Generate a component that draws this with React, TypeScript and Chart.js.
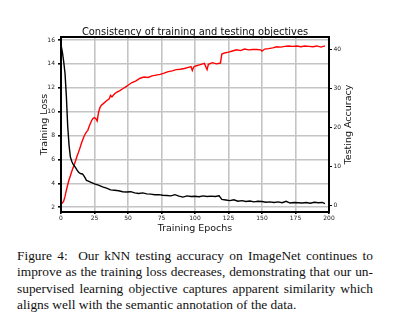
import React, { useEffect, useRef } from "react";
import { Chart, registerables } from "chart.js";

Chart.register(...registerables);

// ---- data ----
const lossEpochs = [
  0, 1, 2, 3, 4, 5, 6, 7, 8, 9, 10, 11, 12, 13, 14, 15, 16, 17, 18, 19, 20,
  22, 25, 28, 31, 34, 37, 40, 43, 46, 49, 52, 55, 58, 61, 64, 67, 70, 73, 76,
  79, 82, 85, 88, 91, 94, 97, 100, 103, 106, 109, 112, 115, 118, 120, 123,
  126, 129, 132, 135, 138, 141, 144, 147, 150, 153, 156, 159, 162, 165, 168,
  171, 174, 177, 180, 183, 186, 189, 192, 195, 197,
];
const lossValues = [
  15.6, 15.0, 14.2, 13.2, 11.3, 8.8, 7.2, 6.2, 5.85, 5.6, 5.45, 5.3, 5.1,
  4.95, 4.85, 4.8, 4.78, 4.65, 4.45, 4.25, 4.2,
  4.1, 3.95, 3.85, 3.7, 3.6, 3.45, 3.42, 3.38, 3.3, 3.28, 3.3, 3.2, 3.15,
  3.2, 3.12, 3.1, 3.05, 3.05, 3.0, 2.98, 2.95, 3.05, 2.93, 2.85, 2.95, 2.9,
  2.92, 2.88, 2.95, 2.9, 2.93, 2.9, 2.95, 2.65, 2.6, 2.55, 2.62, 2.5, 2.55,
  2.48, 2.52, 2.45, 2.5, 2.48, 2.42, 2.45, 2.4, 2.45, 2.38, 2.5, 2.35, 2.4,
  2.38, 2.35, 2.4, 2.33, 2.42, 2.38, 2.4, 2.3,
];

const accEpochs = [
  0, 1, 2, 3, 4, 5, 6, 7, 8, 9, 10, 11, 12, 13, 14, 15, 16, 17, 18, 19, 20,
  21, 22, 23, 24, 25, 26, 27, 28, 29, 30, 32, 34, 36, 37, 38, 40, 42, 44, 46,
  48, 50, 53, 56, 59, 62, 65, 68, 71, 74, 77, 80, 83, 86, 89, 92, 95, 97, 98,
  99, 101, 104, 107, 109, 110, 113, 116, 119, 120, 122, 125, 128, 131, 134,
  137, 140, 143, 146, 149, 150, 152, 155, 158, 161, 164, 167, 170, 173, 176,
  179, 182, 185, 188, 191, 194, 197,
];
const accValues = [
  0.3, 0.5, 1.0, 2.2, 3.8, 5.2, 6.5, 7.5, 8.6, 9.6, 10.5, 11.5, 12.6, 13.5,
  14.5, 15.6, 16.6, 17.5, 18.2, 18.8, 19.2, 20.2, 21.0, 21.8, 22.3, 22.5,
  22.2, 21.6, 23.8, 25.0, 25.6, 26.2, 26.8, 27.3, 28.2, 27.8, 28.6, 29.1,
  29.4, 29.9, 30.3, 30.8, 31.5, 31.9, 32.6, 32.9, 32.8, 33.2, 33.4, 33.6,
  33.9, 34.3, 34.5, 34.8, 34.9, 35.1, 35.4, 35.6, 34.6, 35.5, 35.8, 36.1,
  36.4, 34.8, 36.2, 36.6, 36.3, 36.5, 38.8, 39.1, 39.3, 39.6, 39.9, 39.7,
  40.1, 39.9, 40.0, 40.0, 39.9, 39.6, 40.1, 40.2, 40.4, 40.7, 40.6, 40.8,
  40.9, 40.8, 40.9, 40.7, 40.9, 40.8, 40.7, 40.9, 40.6, 40.9,
];

const xTicks = [0, 25, 50, 75, 100, 125, 150, 175, 200];
const lossTicks = [2, 4, 6, 8, 10, 12, 14, 16];
const accTicks = [0, 10, 20, 30, 40];

const titleText = "Consistency of training and testing objectives";
const xLabel = "Training Epochs";
const yLabel = "Training Loss";
const y2Label = "Testing Accuracy";

const captionLines = [
  "Figure 4:\u00a0 Our kNN testing accuracy on ImageNet continues to",
  "improve as the training loss decreases, demonstrating that our un-",
  "supervised learning objective captures apparent similarity which",
  "aligns well with the semantic annotation of the data.",
];

const FONT = "'DejaVu Sans', sans-serif";

const decorPlugin = {
  id: "decor",
  afterDatasetsDraw(chart: any) {
    const { ctx, chartArea } = chart;
    const { left, right, top, bottom } = chartArea;
    ctx.save();
    ctx.strokeStyle = "#000";
    ctx.lineWidth = 2;
    ctx.strokeRect(left, top, right - left, bottom - top);
    ctx.restore();
  },
  afterDraw(chart: any) {
    const { ctx, chartArea } = chart;
    const { left, right, top, bottom } = chartArea;
    const cx = (left + right) / 2;
    const cy = (top + bottom) / 2;
    ctx.save();
    ctx.fillStyle = "#111";
    ctx.textAlign = "center";
    ctx.textBaseline = "alphabetic";
    ctx.font = `9.9px ${FONT}`;
    ctx.fillText(titleText, cx, top - 2);
    ctx.font = `9.5px ${FONT}`;
    ctx.fillText(xLabel, cx, bottom + 19);
    ctx.save();
    ctx.translate(left - 14.5, cy);
    ctx.rotate(-Math.PI / 2);
    ctx.fillText(yLabel, 0, 0);
    ctx.restore();
    ctx.save();
    ctx.translate(right + 22, cy);
    ctx.rotate(-Math.PI / 2);
    ctx.fillText(y2Label, 0, 0);
    ctx.restore();
    ctx.restore();
  },
};

export default function App() {
  const canvasRef = useRef<HTMLCanvasElement | null>(null);

  useEffect(() => {
    const canvas = canvasRef.current;
    if (!canvas) return;
    const tickFont = { family: FONT, size: 6 };
    const chart = new Chart(canvas, {
      type: "line",
      data: {
        datasets: [
          {
            label: "Training Loss",
            data: lossEpochs.map((x, i) => ({ x, y: lossValues[i] })),
            borderColor: "#000000",
            borderWidth: 1.4,
            pointRadius: 0,
            yAxisID: "y",
            tension: 0,
          },
          {
            label: "Testing Accuracy",
            data: accEpochs.map((x, i) => ({ x, y: accValues[i] })),
            borderColor: "#ff0000",
            borderWidth: 1.4,
            pointRadius: 0,
            yAxisID: "y2",
            tension: 0,
          },
        ],
      },
      options: {
        responsive: false,
        animation: false,
        devicePixelRatio: 1,
        layout: { padding: { top: 37, left: 0, right: 0, bottom: 0 } },
        plugins: {
          legend: { display: false },
          tooltip: { enabled: false },
          title: { display: false },
        },
        scales: {
          x: {
            type: "linear",
            min: 0,
            max: 200,
            afterBuildTicks: (s: any) => {
              s.ticks = xTicks.map((v) => ({ value: v }));
            },
            afterFit: (s: any) => {
              s.height = 28;
              s.paddingLeft = 0;
              s.paddingRight = 0;
            },
            ticks: {
              font: tickFont,
              color: "#222",
              padding: 1,
              maxRotation: 0,
              autoSkip: false,
            },
            grid: {
              color: "#c4c4c4",
              lineWidth: 1.6,
              tickColor: "#000",
              tickLength: 2,
            },
            border: { display: false },
          },
          y: {
            type: "linear",
            position: "left",
            min: 1.6,
            max: 16.25,
            afterBuildTicks: (s: any) => {
              s.ticks = lossTicks.map((v) => ({ value: v }));
            },
            afterFit: (s: any) => {
              s.width = 61;
              s.paddingTop = 0;
              s.paddingBottom = 0;
            },
            ticks: {
              font: tickFont,
              color: "#222",
              padding: 3,
              autoSkip: false,
            },
            grid: {
              color: "#c4c4c4",
              lineWidth: 1.6,
              tickColor: "#000",
              tickLength: 3,
            },
            border: { display: false },
          },
          y2: {
            type: "linear",
            position: "right",
            min: -1.8,
            max: 43.2,
            afterBuildTicks: (s: any) => {
              s.ticks = accTicks.map((v) => ({ value: v }));
            },
            afterFit: (s: any) => {
              s.width = 68;
              s.paddingTop = 0;
              s.paddingBottom = 0;
            },
            ticks: {
              font: tickFont,
              color: "#222",
              padding: 1.5,
              autoSkip: false,
            },
            grid: {
              drawOnChartArea: false,
              tickColor: "#000",
              tickLength: 3,
            },
            border: { display: false },
          },
        },
      },
      plugins: [decorPlugin],
    });
    return () => chart.destroy();
  }, []);

  return (
    <div
      style={{
        position: "absolute",
        left: 0,
        top: 0,
        width: 397,
        height: 328,
        background: "#fff",
      }}
    >
      <canvas
        ref={canvasRef}
        width={397}
        height={240}
        style={{ position: "absolute", left: 0, top: 0, width: 397, height: 240 }}
      />
      <div
        style={{
          position: "absolute",
          left: 17,
          top: 248,
          width: 356,
          fontFamily: "'Liberation Serif', 'Times New Roman', serif",
          fontSize: 13.4,
          lineHeight: "16.3px",
          color: "#111",
        }}
      >
        {captionLines.map((line, i) => (
          <div
            key={i}
            style={{
              textAlign: i < captionLines.length - 1 ? "justify" : "left",
              textAlignLast: i < captionLines.length - 1 ? "justify" : "left",
              whiteSpace: "nowrap",
            }}
          >
            {line}
          </div>
        ))}
      </div>
    </div>
  );
}
